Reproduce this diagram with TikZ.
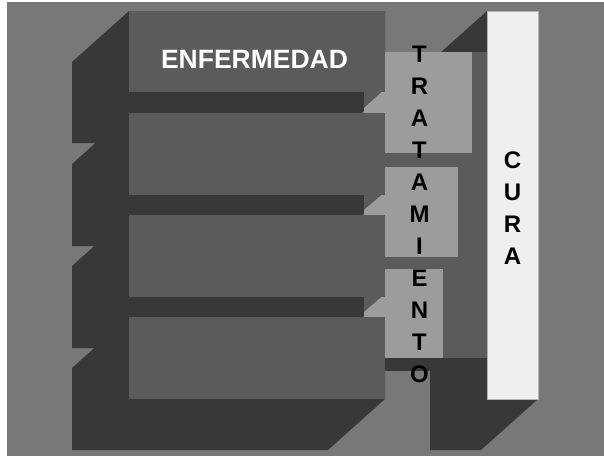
\documentclass[tikz,border=0pt]{standalone}
\usepackage{fontspec}
\setmainfont{Liberation Sans}
\definecolor{bgray}{HTML}{787878}
\definecolor{dgray}{HTML}{383838}
\definecolor{mgray}{HTML}{5B5B5B}
\definecolor{lgray}{HTML}{9C9C9C}
\definecolor{cwhite}{HTML}{EFEFEF}
\tikzset{letter/.style={font=\bfseries\fontsize{24}{24}\selectfont, anchor=base, inner sep=0pt}}

\begin{document}
\begin{tikzpicture}[x=1pt,y=-1pt]
\useasboundingbox (0,0) rectangle (604,456);
\path[fill=white] (0,0) rectangle (604,456);
\path[fill=bgray] (7,2) rectangle (604,456);
% shadows
\path[fill=dgray] (487,11)--(538,11)--(538,399)--(481,450)--(430,450)--(430,62)--cycle;
\foreach \ya/\yb in {11/92,113/195,215/297,317/399}
  \path[fill=dgray] (129,\ya)--(385,\ya)--(385,\yb)--(328,\yb+51)--(72,\yb+51)--(72,\ya+51)--cycle;
% panel behind the treatment
\path[fill=mgray] (364,52) rectangle (487,358);
\path[fill=dgray] (364,358) rectangle (487,371);
\foreach \ga/\gb in {92/113,195/215,297/317}
  \path[fill=lgray] (385,\ga-3)--(364,\gb-5)--(364,\gb)--(385,\gb)--cycle;
% fronts
\foreach \ya/\yb in {11/92,113/195,215/297,317/399}
  \path[fill=mgray] (129,\ya) rectangle (385,\yb);
\foreach \ya/\yb/\xb in {52/153/472,167/257/458,269/358/443}
  \path[fill=lgray] (385,\ya) rectangle (\xb,\yb);
\path[fill=cwhite, draw=gray!60] (487,11) rectangle (538,399);
% texts
\node[font=\bfseries\fontsize{26.5}{26.5}\selectfont, text=white, anchor=base, inner sep=0pt] (enf) at (254.5,68) {ENFERMEDAD};
\foreach \c [count=\i from 0] in {T,R,A,T,A,M,I,E,N,T,O}
  \node[letter] (trat\i) at (419.5,62.5+31.95*\i) {\c};
\foreach \c [count=\i from 0] in {C,U,R,A}
  \node[letter] (cura\i) at (512.5,168+32.3*\i) {\c};
\end{tikzpicture}
\end{document}
